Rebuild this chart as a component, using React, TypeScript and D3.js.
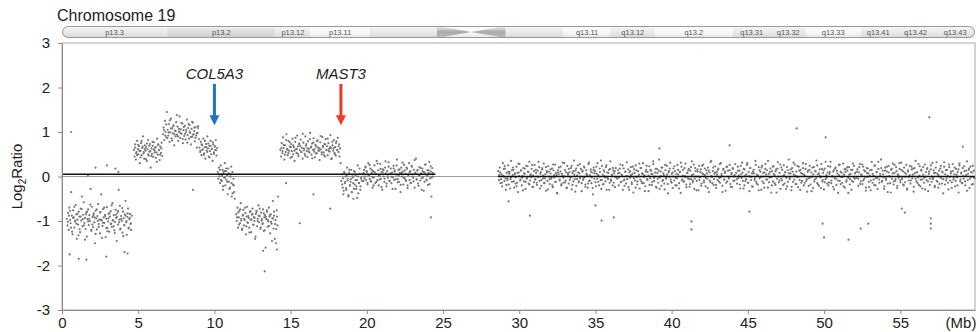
import React, { useEffect, useRef } from "react";
import * as d3 from "d3";

// log2 ratio values per probe, in hundredths, grouped by segment (Mb ranges below)
const segA = [-95, -110, -82, -120, -70, -98, -105, -35, -88, -130, -76, -92, -115, -101, -64, -85, -140, -97, -108, -79, -90, -125, -72, -99, -45, -112, -86, -58, -104, -93, -118, -81, -135, -96, -74, -109, -87, -100, -28, -122, -68, -91, -114, -83, -103, -150, -77, -94, -119, -89, -62, -107, -97, -128, -80, -40, -99, -111, -73, -92, -104, -86, -136, -95, -69, -116, -101, -84, -124, -90, -78, -106, -113, -60, -98, -87, -121, -102, -75, -93, -145, -82, -108, -30, -97, -66, -117, -89, -100, -126, -79, -94, -110, -85, -55, -103, -131, -91, -72, -115, -96, -84, -107, -120, -88];
const segA2 = [-102, -88, -77, -115, -124, -93, -68, -99, -106, -84, -132, -118, -90, -73, -96, -110, -142, -85, -79, -101, -95, -63, -120, -108, -87, -92, -129, -74, -100, -113, -81, -97, -138, -104, -70, -89, -116, -123, -94, -82, -107, -65, -99, -112, -127, -86, -91, -78, -103, -119, -96, -71, -134, -109, -88, -100, -83, -117, -93, -105];
const segB = [60, 45, 72, 38, 55, 80, 62, 50, 68, 30, 57, 75, 48, 64, 90, 52, 40, 70, 58, 66, 35, 61, 82, 47, 56, 73, 20, 63, 51, 69, 44, 77, 59, 65, 42, 54, 85, 49, 71, 60, 37, 67, 53, 76, 46];
const segB2 = [65, 52, 48, 71, 58, 43, 80, 67, 55, 62, 39, 74, 50, 69, 57, 46, 78, 61, 54, 66, 33, 72, 59, 49, 63];
const segC = [95, 110, 82, 125, 100, 88, 145, 105, 92, 118, 78, 99, 130, 86, 108, 97, 115, 70, 103, 90, 122, 94, 112, 80, 101, 135, 87, 106, 96, 119, 75, 104, 91, 114, 83, 100, 128, 93, 109, 85, 116, 98, 72, 107, 89, 121, 95, 102, 79, 111, 92, 65, 98, 113, 84];
const segC2 = [104, 92, 117, 86, 99, 126, 108, 81, 113, 95, 102, 138, 90, 107, 98, 120, 84, 111, 96, 105, 76, 118, 101, 89, 123, 94, 110, 87, 97, 109];
const segD = [65, 55, 78, 48, 70, 60, 85, 52, 66, 40, 73, 58, 90, 63, 45, 69, 57, 80, 50, 62, 35, 72, 54, 67, 60, 82, 47, 64];
const segD2 = [58, 72, 61, 49, 80, 66, 55, 74, 43, 69, 62, 77, 51, 68, 59];
const segE = [10, -5, 20, 0, -15, 25, 5, -10, 15, -30, 8, -2, 30, -20, 12, -8, 3, -40, 18, -12, 6, -25, 0, 22, -45, 10, -18, -5, -35, -50];
const segE2 = [5, 15, -8, 2, -22, 12, -3, 18, -12, 7, -28, 0, -15, -38, -20];
const segF = [-85, -100, -70, -115, -92, -78, -105, -60, -95, -120, -88, -75, -110, -98, -82, -130, -90, -68, -104, -93, -115, -80, -97, -125, -86, -72, -108, -91, -100, -140, -84, -77, -112, -95, -65, -103, -89, -118, -81, -99, -107, -74, -122, -92, -87, -160, -96, -79, -113, -101, -70, -90, -128, -85, -106, -94, -55, -117, -88, -140, -98, -150, -76, -110, -45];
const segF2 = [-92, -81, -108, -74, -99, -117, -86, -95, -70, -112, -103, -89, -126, -78, -97, -84, -109, -93, -135, -80, -100, -88, -72, -114, -96, -105, -83, -121, -91, -76, -98, -111, -87, -102, -145, -94, -79, -107, -118, -90];
const segG = [60, 45, 75, 52, 88, 64, 38, 70, 55, 95, 62, 48, 80, 58, 67, 42, 73, 57, 85, 50, 66, 35, 78, 61, 53, 92, 68, 46, 72, 59, 83, 55, 64, 40, 76, 63, 51, 90, 69, 57, 44, 79, 62, 54, 98, 65, 49, 74, 60, 86, 56, 43, 71, 67, 52, 81, 58, 63, 37, 77, 61, 50, 89, 66, 54, 73, 45, 84, 59, 68, 48, 75, 62, 56, 93, 64, 41, 70, 58, 82, 53, 66, 47, 79, 60, 87, 55, 72, 63, 30];
const segG2 = [64, 57, 71, 49, 82, 60, 53, 77, 66, 44, 70, 58, 87, 62, 51, 74, 68, 55, 96, 59, 47, 73, 63, 56, 84, 67, 41, 76, 61, 52, 79, 65, 58, 91, 54, 69, 48, 72, 60, 85, 57, 66, 39, 78, 63, 50, 75, 59, 68, 45];
const segH1 = [-10, 5, -25, -40, 10, -15, 0, -30, 20, -5, -45, 8, -20, -12, 15, -35, -2, -50, 12, -18, 3, -28, -8, 25, -38, -15, 6, -22, -3, -10];
const segH1b = [-18, -4, -32, 8, -12, -26, 2, -9, -42, 15, -20, -6, -35, 4, -15, -28, 10, -8, -22, -48, 0, -14, 18, -30, -5];
const segH2 = [5, -10, 15, 0, 22, -8, 10, -18, 30, 3, -5, 18, -12, 8, -25, 12, -2, 25, -15, 6, 35, -8, 14, -20, 2, 28, -5, 10, -30, 16, 0, -12, 20, 7, -22, 12, -3, 32, -10, 5, 18, -15, 9, -2, 24, -8, 13, -28, 4, 38, -6, 15, -12, 8, -35, 20, 0, 11, -18, 26, -4, 6, -10, 17, -20, 2, 30, -8, 12, -14, 22, 5, -3, 15, -25, 9, 40, -6, 13, -16, 3, 21, -9, 7, -30, 18, -2, 10, -12, 27, 4, -7, 14, -19, 8, 33, -4, 11, -45, 19, 0, 6];
const segH2b = [8, -4, 20, 12, -14, 3, 26, -9, 15, -2, -20, 10, 6, -12, 29, 1, -7, 17, -24, 9, 14, -5, 34, -16, 4, 22, -10, 7, -1, -28, 18, 11, -6, 25, -13, 2, 16, -19, 8, 31, -3, 13, -8, 20, -26, 5, 10, -15, 24, 0, -11, 37, 6, -7, 15, -21, 3, 19, -4, 12, -32, 9, 27, -9, 1, 14, -17, 23, -2, 8];
const segQ1 = [12, -8, 20, -15, 5, -22, 30, 0, -10, 18, -30, 8, -4, 25, -18, 10, -6, 35, -12, 3, 15, -25, 7, -2, 22, -14, -35, 9, 28, -7, 14, -20, 1, 19, -11, 6, -28, 24, -3, 11, -16, 33, -9, 4, 17, -23, 2, -13, 26, -6, 8, -19, 13, -1, 21, -27, 10, -8, 16, -4, 29, -15, 5, -32, 12, -10, 23, 0, -17, 7, -5, 18, -24, 14, -2, 27, -12, 3, -38, 9, 20, -7, 11, -20, 6, 31, -14, 1, 15, -9, -26, 24, 4, -16, 10, -3, 19, -29, 8, -11, 36, -6, 13, -21, 2, 25, -13, 7, -4, 17, -33, 11, -8, 22, -1, -18, 14, 5, -25, 28, -10, 3, 16, -15, 9, -40, 20, -5, 12, -22, 6, 30, -12, 0, 18, -8, -28, 24, 4, -17, 11, -2, 21, -30, 9, -6, 15, -14, 34, -10, 2, -20, 13, 7, -24, 19, -3];
const segQ1b = [3, 9, -6, -14, 2, 17, 24, -4, -19, -8, 11, 6, -27, -2, 14, 20, -11, 5, -16, -22, 8, 29, 1, -9, 13, -3, -31, 7, 18, -12, -5, 23, 10, -18, 4, -1, 26, -24, 12, -7, 15, -14, 0, 33, -10, 6, -21, 19, 2, -15, -4, 21, 9, -29, 11, -6, 16, -2, -20, 27, 3, -12, 8, -37, 14, 5, -9, 22, -17, 1, -3, 30, -13, 10, -25, 7, 17, -8, -1, 24, -19, 12, 4, -34, 18, -6, 9, -11, 28, 0, -15, 13, -4, 20, -23, 6, 2, -16, 31, -9, 11, -2, -26, 15, 7, -13, 22, -5, 3, -20, 10, 36, -8, -18, 14, 1, -11, 25, -3, 8, -30, 17, -7, 4, 19, -14, 12, -1];
const segQ2 = [-5, 14, -20, 8, 27, -12, 3, -30, 18, -7, 11, -16, 32, 1, -24, 9, -3, 21, -13, 6, -36, 16, -9, 25, -1, -18, 12, 4, -27, 19, -11, 7, 30, -15, 2, -22, 15, -6, 10, -33, 23, -4, 13, -19, 5, 28, -10, 0, 17, -25, 8, -14, 38, -2, 11, -21, 20, -8, 3, -29, 14, -5, 24, -17, 9, -1, 31, -12, 6, -26, 18, -9, 12, -3, -20, 26, 4, -15, 10, -37, 22, -7, 15, -11, 1, 29, -18, 8, -4, 17, -23, 13, -6, 34, -13, 5, -28, 19, 0, -10, 11, -31, 24, -2, 16, -16, 7, 27, -9, 3, -22, 14, -5, 20, -35, 9, -12, 35, -1, 12, -19, 6, 23, -26, 10, -8, 18, -3, -14, 30, 2, -21, 15, -7, 8, -32, 21, -11, 13, -4, 26, -17, 5, -24, 17, 0, -9, 28];
const segQ2b = [7, -2, 18, -13, 4, 25, -9, -21, 10, 1, -6, 16, -30, 12, 3, -17, 22, -4, 8, -25, 14, -11, 0, 29, -7, 19, -15, 5, -1, -33, 11, 24, -8, 2, -19, 15, 6, -12, 34, -3, 9, -23, 17, -5, 13, -28, 1, 20, -10, 7, -16, 26, -2, 4, -38, 12, 18, -7, -14, 9, 0, 23, -20, 6, -4, 15, -27, 11, 31, -9, 2, -12, 19, -1, -24, 8, 14, -6, -17, 21, 3, -10, 27, -5, 12, -31, 16, 0, -8, 10, -21, 24, 5, -13, 18, -3, 7, -26, 13, -9, 32, 1, -15, 20, -6, 9, -19, 4, 15, -11, 28, -2, 6, -35, 17, -7, 11, -14, 22, 0, -4, 14, -23, 8, 19, -10, 3];
const segQ3 = [8, -16, 22, -3, 13, -27, 5, 31, -10, 17, -20, 2, -6, 26, -14, 10, -33, 19, -1, 7, -23, 15, -8, 35, -12, 4, -18, 21, -4, 11, -30, 24, 0, -15, 9, 28, -7, 14, -25, 6, -2, 18, -36, 12, -11, 23, 3, -19, 16, -5, 32, -13, 8, -28, 20, -9, 1, 25, -16, 10, -3, -22, 14, 38, -6, 7, -31, 19, -12, 4, 27, -17, 11, -1, -24, 22, -8, 15, -14, 6, 30, -20, 2, 17, -10, -34, 13, -4, 24, -18, 9, 0, -26, 21, -7, 12, 36, -15, 5, -21, 16, -2, 28, -11, 8, -29, 18, -6, 3, -16, 23, -13, 10, 33, -9, 1, -23, 14, -4, 20, -19, 7, -37, 26, -10, 11, -1, -14, 29, 4, -25, 17, -8, 13, -3, 21, -18, 6, -30, 15, -12, 24, -5, 9];
const segQ3b = [-6, 13, 2, -18, 24, -3, 9, -27, 16, -10, 5, 30, -14, 1, 19, -8, -22, 11, 7, -4, 26, -16, 3, -31, 14, -1, 20, -11, 8, -25, 17, 4, -7, 35, -13, 10, -2, -20, 22, 6, -15, 12, -36, 18, 0, -9, 27, -5, 15, -19, 3, 9, -28, 21, -12, 7, -3, 16, -23, 11, 31, -7, 2, -17, 24, -1, 13, -30, 8, -10, 19, 4, -14, 28, -6, 10, -21, 15, -2, -33, 20, 5, -11, 12, -4, 25, -18, 7, 1, -26, 17, -8, 14, -13, 33, -3, 9, -20, 6, 22, -15, 0, 11, -29, 18, -5, 13, -9, 3, 27, -17, 8, -1, -22, 16, 10, -12, 21, -37, 4, -6, 15, -10, 29, -2, 7];
const segQ4 = [-3, 16, -21, 9, 28, -11, 4, -17, 22, -6, 12, -32, 19, -1, 7, -24, 14, -9, 33, -14, 2, -19, 25, -4, 10, -28, 17, -7, 6, 38, -12, 13, -2, -22, 20, -8, 11, -35, 24, 1, -15, 15, -5, 29, -18, 8, -10, 21, -26, 5, -3, 17, -13, 31, -6, 12, -20, 9, -1, 26, -30, 14, -9, 3, -16, 22, -4, 18, -23, 7, 35, -11, 10, -2, -19, 23, -7, 15, -27, 4, -14, 27, 0, -8, 19, -33, 11, -5, 16, -12, 30, -3, 8, -21, 20, -10, 6, -25, 13, -1, 24, -16, 9, -6, 32, -18, 14, -4, 2, -29, 21, -9, 11, -13, 28, -7, 5, -22, 17, -2, 10, -36, 25, -11, 7, -15, 19, -5, 12, -20, 3, 34, -8, 15, -26, 22, -1, 9, -17, 13, -4];
const segQ4b = [11, -5, 21, -17, 4, 27, -9, 14, -1, -25, 8, 18, -12, 2, -31, 15, 6, -7, 24, -20, 10, -3, 33, -14, 1, 19, -10, 5, -28, 13, -4, 22, -16, 9, 0, -36, 17, 7, -11, 26, -6, 12, -21, 3, 30, -8, 15, -2, -18, 20, -13, 6, -27, 11, -1, 24, -9, 16, 4, -34, 19, -5, 9, -15, 28, 2, -22, 13, -7, 21, -3, -29, 10, 17, -11, 6, -19, 25, 0, -6, 14, -24, 8, 32, -12, 3, -17, 18, -4, 11, -38, 22, 5, -9, 15, -14, 27, -1, 7, -26, 12, -3, 20, -10, 4, -20, 16, 29, -7, 9, -15, 1, 23, -11, 13, -32, 6, 18, -5, 10, -18, 24, -2];

// segment Mb ranges (probes are spread along each range)
const segStarts = [0.3, 0.35, 4.7, 4.75, 6.6, 6.65, 9.0, 9.05, 10.2, 10.25, 11.4, 11.45, 14.3, 14.35, 18.3, 18.35, 19.7, 19.75, 28.6, 28.65, 36.4, 36.45, 44.2, 44.25, 52.1, 52.15];
const segEnds = [4.6, 4.55, 6.6, 6.55, 9.0, 8.95, 10.2, 10.15, 11.35, 11.3, 14.2, 14.15, 18.3, 18.25, 19.7, 19.65, 24.4, 24.35, 36.4, 36.35, 44.2, 44.15, 52.1, 52.05, 59.9, 59.85];
const segValues = [segA, segA2, segB, segB2, segC, segC2, segD, segD2, segE, segE2, segF, segF2, segG, segG2, segH1, segH1b, segH2, segH2b, segQ1, segQ1b, segQ2, segQ2b, segQ3, segQ3b, segQ4, segQ4b];

// single stray probes [Mb, log2 ratio]
const strays = [
  [0.6, 1.0], [1.7, 0.02], [2.95, 0.25], [3.5, 0.18], [3.7, 0.1], [2.2, 0.2],
  [0.5, -1.75], [1.1, -1.85], [1.6, -1.87], [2.9, -1.8], [4.1, -1.7], [4.3, -1.73],
  [8.6, -0.3], [13.3, -2.13], [13.2, -1.67], [14.1, -1.64], [14.7, -0.15],
  [15.6, -1.05], [16.5, -0.4], [17.6, -0.72], [24.2, -0.92],
  [29.3, -0.56], [30.7, -0.88], [35.0, -0.65], [35.4, -0.99], [36.2, -0.92],
  [39.2, 0.63], [41.3, -1.01], [41.3, -1.19], [43.8, 0.7], [45.1, -0.79],
  [48.2, 1.08], [49.9, -1.06], [50.0, -1.37], [50.1, 0.88], [51.6, -1.42],
  [52.4, -1.17], [52.9, -1.06], [55.1, -0.72], [55.3, -0.81], [56.9, 1.33],
  [57.0, -0.94], [57.0, -1.06], [57.0, -1.17], [59.1, 0.67],
];

// segmentation means
const meanStarts = [0, 28.6];
const meanEnds = [24.5, 59.9];
const meanValues = [0.05, 0.0];

// chromosome 19 cytobands (Mb)
const bandNames = ["p13.3", "p13.2", "p13.12", "p13.11", "", "", "q13.11", "q13.12", "q13.2", "q13.31", "q13.32", "q13.33", "q13.41", "q13.42", "q13.43"];
const bandStarts = [0, 6.9, 14.0, 16.3, 20.2, 29.1, 32.9, 36.0, 38.9, 44.0, 46.5, 48.8, 52.4, 54.7, 57.3];
const bandEnds = [6.9, 14.0, 16.3, 20.2, 24.6, 32.9, 36.0, 38.9, 44.0, 46.5, 48.8, 52.4, 54.7, 57.3, 59.9];
const bandStains = ["gpos25", "gpos50", "gpos25", "gneg", "gpos25", "gpos25", "gneg", "gpos25", "gneg", "gpos25", "gpos25", "gneg", "gpos25", "gpos25", "gpos25"];
const centromere = [24.6, 26.85, 29.1];

const yTicks = [-3, -2, -1, 0, 1, 2, 3];
const xTicks = [0, 5, 10, 15, 20, 25, 30, 35, 40, 45, 50, 55];

const geneNames = ["COL5A3", "MAST3"];
const genePos = [10.0, 18.3];
const geneTop = [2.08, 2.08];
const geneTip = [1.15, 1.15];

const FONT = "'Liberation Sans', Arial, Helvetica, sans-serif";
const stainFill = { gneg: "#f8f8f8", gpos25: "#e8e8e8", gpos50: "#dadada" };
const geneColors = ["#1e73c6", "#ee3a22"];

const App = () => {
  const svgRef = useRef(null);

  useEffect(() => {
    document.body.style.margin = "0";
    const svg = d3.select(svgRef.current);
    svg.selectAll("*").remove();

    const x = d3.scaleLinear().domain([0, 59.9]).range([62, 975]);
    const y = d3.scaleLinear().domain([-3, 3]).range([310, 43]);

    // title
    svg
      .append("text")
      .attr("x", 57)
      .attr("y", 21)
      .attr("font-size", 16)
      .attr("fill", "#222")
      .text("Chromosome 19");

    // ideogram
    const defs = svg.append("defs");
    const gloss = defs
      .append("linearGradient")
      .attr("id", "gloss")
      .attr("x1", 0)
      .attr("y1", 0)
      .attr("x2", 0)
      .attr("y2", 1);
    gloss.append("stop").attr("offset", "0%").attr("stop-color", "#fff").attr("stop-opacity", 0.7);
    gloss.append("stop").attr("offset", "45%").attr("stop-color", "#fff").attr("stop-opacity", 0.1);
    gloss.append("stop").attr("offset", "100%").attr("stop-color", "#888").attr("stop-opacity", 0.22);
    const cenGrad = defs
      .append("linearGradient")
      .attr("id", "cen")
      .attr("x1", 0)
      .attr("y1", 0)
      .attr("x2", 0)
      .attr("y2", 1);
    cenGrad.append("stop").attr("offset", "0%").attr("stop-color", "#c8ccd0");
    cenGrad.append("stop").attr("offset", "50%").attr("stop-color", "#9ba2a9");
    cenGrad.append("stop").attr("offset", "100%").attr("stop-color", "#bfc3c7");

    const iTop = 26;
    const iH = 12;
    defs
      .append("clipPath")
      .attr("id", "ideo")
      .append("rect")
      .attr("x", x(0))
      .attr("y", iTop)
      .attr("width", x(59.9) - x(0))
      .attr("height", iH)
      .attr("rx", 6);

    const ideo = svg.append("g").attr("clip-path", "url(#ideo)");
    ideo
      .append("rect")
      .attr("x", x(0))
      .attr("y", iTop)
      .attr("width", x(59.9) - x(0))
      .attr("height", iH)
      .attr("fill", "#fafafa");
    ideo
      .selectAll(".band")
      .data(bandNames)
      .enter()
      .append("rect")
      .attr("x", (d, i) => x(bandStarts[i]))
      .attr("y", iTop)
      .attr("width", (d, i) => x(bandEnds[i]) - x(bandStarts[i]))
      .attr("height", iH)
      .attr("fill", (d, i) => stainFill[bandStains[i]]);
    ideo
      .append("path")
      .attr(
        "d",
        `M${x(centromere[0])},${iTop}L${x(centromere[1])},${iTop + iH / 2}L${x(centromere[0])},${iTop + iH}Z` +
          `M${x(centromere[2])},${iTop}L${x(centromere[1])},${iTop + iH / 2}L${x(centromere[2])},${iTop + iH}Z`
      )
      .attr("fill", "url(#cen)");
    ideo
      .append("rect")
      .attr("x", x(0))
      .attr("y", iTop)
      .attr("width", x(59.9) - x(0))
      .attr("height", iH)
      .attr("fill", "url(#gloss)");
    svg
      .append("rect")
      .attr("x", x(0) + 0.5)
      .attr("y", iTop + 0.5)
      .attr("width", x(59.9) - x(0) - 1)
      .attr("height", iH - 1)
      .attr("rx", 6)
      .attr("fill", "none")
      .attr("stroke", "#9a9a9a");
    svg
      .selectAll(".bandLabel")
      .data(bandNames)
      .enter()
      .append("text")
      .attr("x", (d, i) => x((bandStarts[i] + bandEnds[i]) / 2))
      .attr("y", iTop + 9)
      .attr("text-anchor", "middle")
      .attr("font-size", 7.5)
      .attr("fill", "#555")
      .text((d) => d);

    // frame
    svg
      .append("rect")
      .attr("x", x(0))
      .attr("y", y(3))
      .attr("width", x(59.9) - x(0))
      .attr("height", y(-3) - y(3))
      .attr("fill", "none")
      .attr("stroke", "#a8a8a8");

    // zero line
    svg
      .append("line")
      .attr("x1", x(0))
      .attr("x2", x(59.9))
      .attr("y1", y(0))
      .attr("y2", y(0))
      .attr("stroke", "#9a9a9a")
      .attr("stroke-width", 1);

    // probes
    const points = [];
    segValues.forEach((vals, s) => {
      const step = (segEnds[s] - segStarts[s]) / vals.length;
      vals.forEach((v, i) => points.push([segStarts[s] + step * (i + 0.5), v / 100]));
    });
    strays.forEach((p) => points.push(p));

    svg
      .append("g")
      .selectAll("circle")
      .data(points)
      .enter()
      .append("circle")
      .attr("cx", (d) => x(d[0]))
      .attr("cy", (d) => y(d[1]))
      .attr("r", 1.1)
      .attr("fill", "#767676");

    // segment means
    svg
      .selectAll(".mean")
      .data(meanValues)
      .enter()
      .append("line")
      .attr("x1", (d, i) => x(meanStarts[i]))
      .attr("x2", (d, i) => x(meanEnds[i]))
      .attr("y1", (d) => y(d))
      .attr("y2", (d) => y(d))
      .attr("stroke", "#111")
      .attr("stroke-width", 1.6);

    // axes
    const fmt = (d) => String(d);
    const yAxis = svg
      .append("g")
      .attr("transform", `translate(${x(0)},0)`)
      .call(d3.axisLeft(y).tickValues(yTicks).tickFormat(fmt).tickSize(4).tickSizeOuter(0).tickPadding(8));
    const xAxis = svg
      .append("g")
      .attr("transform", `translate(0,${y(-3)})`)
      .call(d3.axisBottom(x).tickValues(xTicks).tickFormat(fmt).tickSize(4).tickSizeOuter(0).tickPadding(3));
    [yAxis, xAxis].forEach((g) => {
      g.select(".domain").attr("stroke", "#8c8c8c");
      g.selectAll(".tick line").attr("stroke", "#8c8c8c");
      g.selectAll(".tick text").attr("font-size", 15).attr("font-family", FONT).attr("fill", "#222");
    });

    svg
      .append("text")
      .attr("x", 961)
      .attr("y", 328)
      .attr("text-anchor", "middle")
      .attr("font-size", 15)
      .attr("fill", "#222")
      .text("(Mb)");

    const yl = svg
      .append("text")
      .attr("transform", `translate(22,${y(0)}) rotate(-90)`)
      .attr("text-anchor", "middle")
      .attr("font-size", 15)
      .attr("fill", "#222");
    yl.append("tspan").text("Log");
    yl.append("tspan").attr("font-size", 10).attr("dy", 4).text("2");
    yl.append("tspan").attr("dy", -4).text("Ratio");

    // gene arrows
    geneNames.forEach((name, i) => {
      const cx = x(genePos[i]);
      const top = y(geneTop[i]);
      const tip = y(geneTip[i]);
      const headTop = tip - 10;
      svg
        .append("rect")
        .attr("x", cx - 1.5)
        .attr("y", top)
        .attr("width", 3)
        .attr("height", headTop - top + 1)
        .attr("fill", geneColors[i]);
      svg
        .append("path")
        .attr("d", `M${cx - 5},${headTop}L${cx + 5},${headTop}L${cx},${tip}Z`)
        .attr("fill", geneColors[i]);
      svg
        .append("text")
        .attr("x", cx)
        .attr("y", top - 5)
        .attr("text-anchor", "middle")
        .attr("font-size", 15)
        .attr("font-style", "italic")
        .attr("fill", "#222")
        .text(name);
    });
  }, []);

  return (
    <svg
      ref={svgRef}
      width={980}
      height={332}
      style={{ display: "block", fontFamily: FONT }}
    ></svg>
  );
};

export default App;
